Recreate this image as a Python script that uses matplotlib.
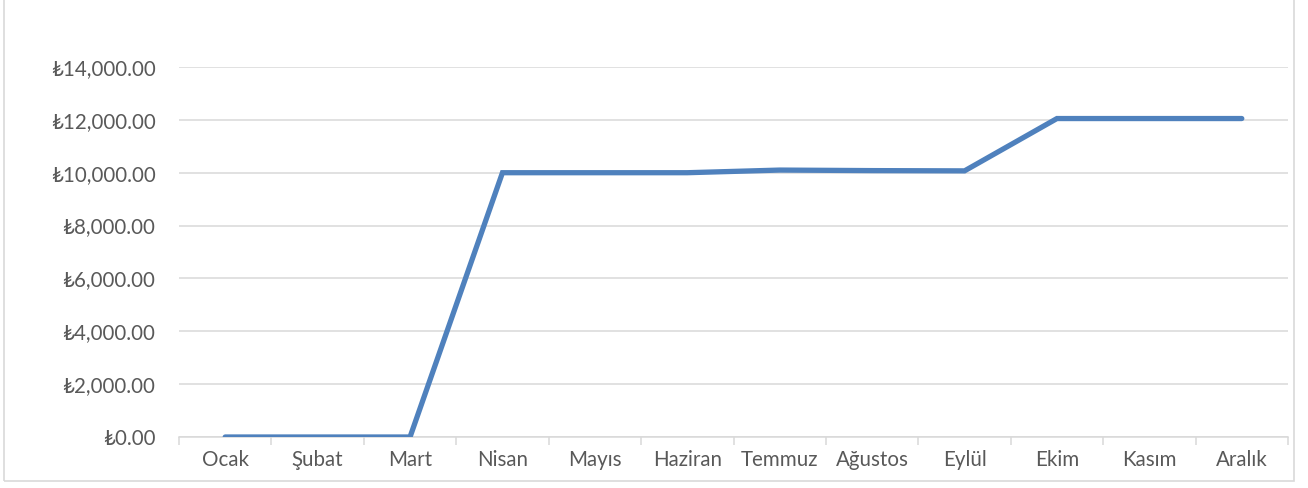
import matplotlib.pyplot as plt
from matplotlib.patches import Rectangle
from matplotlib.ticker import FuncFormatter, MultipleLocator

months = ["Ocak", "Şubat", "Mart", "Nisan", "Mayıs", "Haziran",
          "Temmuz", "Ağustos", "Eylül", "Ekim", "Kasım", "Aralık"]
amounts = [0, 0, 0, 10000, 10000, 10000, 10100, 10080, 10070, 12050, 12050, 12050]

fonts = ["Lato", "Noto Sans", "DejaVu Sans"]
text_color = "#595959"
grid_color = "#D9D9D9"

fig = plt.figure(figsize=(13.08, 4.88), dpi=100)
ax = fig.add_axes([179 / 1308, 1 - 437 / 488, 1109 / 1308, 370 / 488])

x = list(range(len(months)))
ax.plot(x, amounts, color="#4F81BD", linewidth=3.8, solid_capstyle="round",
        solid_joinstyle="miter", zorder=3)

ax.set_xlim(-0.5, len(months) - 0.5)
ax.set_ylim(0, 14000)
ax.yaxis.set_major_locator(MultipleLocator(2000))
ax.yaxis.set_major_formatter(FuncFormatter(lambda v, p: f"₺{v:,.2f}"))
ax.grid(axis="y", color=grid_color, linewidth=1.1, zorder=0)

ax.set_xticks(x)
ax.set_xticklabels(months)
ax.set_xticks([i - 0.5 for i in range(len(months) + 1)], minor=True)
ax.tick_params(axis="x", which="major", length=0, pad=9)
ax.tick_params(axis="x", which="minor", length=6, color=grid_color, width=1.1)
ax.tick_params(axis="y", length=0, pad=17)
for lab in ax.get_xticklabels() + ax.get_yticklabels():
    lab.set_family(fonts)
    lab.set_fontsize(14.8)
    lab.set_color(text_color)

for s in ["top", "right", "left"]:
    ax.spines[s].set_visible(False)
ax.spines["bottom"].set_color(grid_color)
ax.spines["bottom"].set_linewidth(1.1)

fig.patches.append(Rectangle((4 / 1308, 1 - 481 / 488), 1290 / 1308, 1, transform=fig.transFigure,
                             fill=False, edgecolor="#D9D9D9", linewidth=1.2))

fig.savefig("out.png", dpi=100)
